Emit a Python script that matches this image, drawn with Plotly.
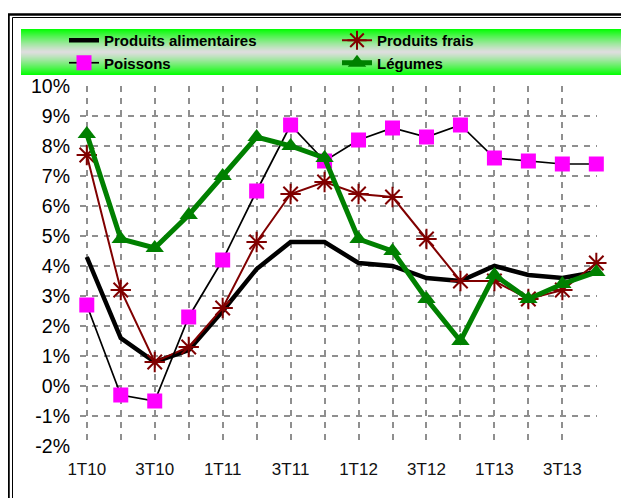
import plotly.graph_objects as go

# ---- data ----
quarters = ["1T10", "2T10", "3T10", "4T10", "1T11", "2T11", "3T11", "4T11",
            "1T12", "2T12", "3T12", "4T12", "1T13", "2T13", "3T13", "4T13"]
tick_labels = ["1T10", "", "3T10", "", "1T11", "", "3T11", "",
               "1T12", "", "3T12", "", "1T13", "", "3T13", ""]
produits_alimentaires = [4.3, 1.6, 0.8, 1.2, 2.5, 3.9, 4.8, 4.8,
                         4.1, 4.0, 3.6, 3.5, 4.0, 3.7, 3.6, 3.8]
produits_frais = [7.7, 3.2, 0.8, 1.3, 2.6, 4.8, 6.4, 6.8,
                  6.4, 6.3, 4.9, 3.5, 3.5, 2.9, 3.2, 4.1]
poissons = [2.7, -0.3, -0.5, 2.3, 4.2, 6.5, 8.7, 7.5,
            8.2, 8.6, 8.3, 8.7, 7.6, 7.5, 7.4, 7.4]
legumes = [8.4, 4.9, 4.6, 5.7, 7.0, 8.3, 8.0, 7.6,
           4.9, 4.5, 2.9, 1.5, 3.7, 2.9, 3.4, 3.8]
y_ticks = list(range(-2, 11))
y_tick_text = [f"{v}%" for v in y_ticks]

# ---- layout geometry (page pixels; page body has an 8px margin) ----
OFF = 8
W, H = 629 - OFF, 498 - OFF
PL, PR, PT, PB = 80, 597, 86, 446   # plot area in page pixels
L, T = PL - OFF, PT - OFF
R, B = W - (PR - OFF), H - (PB - OFF)
pw, ph = PR - PL, PB - PT


def px_x(p):
    return (p - PL) / pw


def px_y(p):
    return 1 - (p - PT) / ph


idx = list(range(len(quarters)))
fig = go.Figure()

fig.add_trace(go.Scatter(x=idx, y=produits_alimentaires, name="Produits alimentaires",
                         mode="lines", line=dict(color="black", width=4.5),
                         cliponaxis=False))
fig.add_trace(go.Scatter(x=idx, y=produits_frais, name="Produits frais",
                         mode="lines+markers", line=dict(color="#800000", width=2),
                         marker=dict(symbol="asterisk-open", size=17,
                                     line=dict(color="#800000", width=2)),
                         cliponaxis=False))
fig.add_trace(go.Scatter(x=idx, y=poissons, name="Poissons",
                         mode="lines+markers", line=dict(color="black", width=1.7),
                         marker=dict(symbol="square", size=15, color="#ff00ff",
                                     line=dict(width=0)),
                         cliponaxis=False))
fig.add_trace(go.Scatter(x=idx, y=legumes, name="Légumes",
                         mode="lines+markers", line=dict(color="#008000", width=5),
                         marker=dict(symbol="triangle-up", size=16, color="#008000",
                                     line=dict(width=0)),
                         cliponaxis=False))

# ---- gradient legend band ----
shapes = []
band_top, band_bot = 29, 75
n = band_bot - band_top
for i in range(n):
    t = (i + 0.5) / n
    d = abs(t - 0.5) * 2  # 0 at center, 1 at edges
    g_ = (222, 222, 222)
    c_ = (0, 255, 0)
    col = tuple(int(round(g_[k] + (c_[k] - g_[k]) * d ** 1.2)) for k in range(3))
    shapes.append(dict(type="rect", xref="paper", yref="paper", layer="below",
                       x0=px_x(21), x1=px_x(700), y0=px_y(band_top + i + 1.05),
                       y1=px_y(band_top + i), fillcolor="rgb(%d,%d,%d)" % col,
                       line=dict(width=0)))

# ---- double frame ----
shapes.append(dict(type="rect", xref="paper", yref="paper",
                   x0=px_x(8.5), x1=px_x(800), y0=px_y(800), y1=px_y(14.5),
                   line=dict(color="black", width=2.5)))
shapes.append(dict(type="rect", xref="paper", yref="paper",
                   x0=px_x(12.5), x1=px_x(800), y0=px_y(800), y1=px_y(17.5),
                   line=dict(color="black", width=1)))

grid = dict(showgrid=True, gridcolor="#8f8f8f", gridwidth=2, griddash="6px,6px",
            zeroline=False, showline=False)

fig.update_layout(
    width=W, height=H,
    margin=dict(l=L, r=R, t=T, b=B),
    paper_bgcolor="white", plot_bgcolor="white",
    font=dict(family="Liberation Sans, Arial", color="black"),
    shapes=shapes,
    showlegend=True,
    legend=dict(orientation="h", x=px_x(64), xanchor="left",
                y=px_y(24), yanchor="top", bgcolor="rgba(0,0,0,0)",
                font=dict(size=15, weight="bold", color="black"),
                entrywidth=228, tracegroupgap=0, itemwidth=30,
                traceorder="normal"),
    xaxis=dict(range=[-0.2, 15.02], tickvals=idx, ticktext=tick_labels,
               tickfont=dict(size=17, color="#111"), ticks="",
               ticklabelstandoff=11, **grid),
    yaxis=dict(range=[-2, 10], tickvals=y_ticks, ticktext=y_tick_text,
               tickfont=dict(size=19.5), ticks="", ticklabelstandoff=9, **grid),
)

fig.write_html("out.html")
